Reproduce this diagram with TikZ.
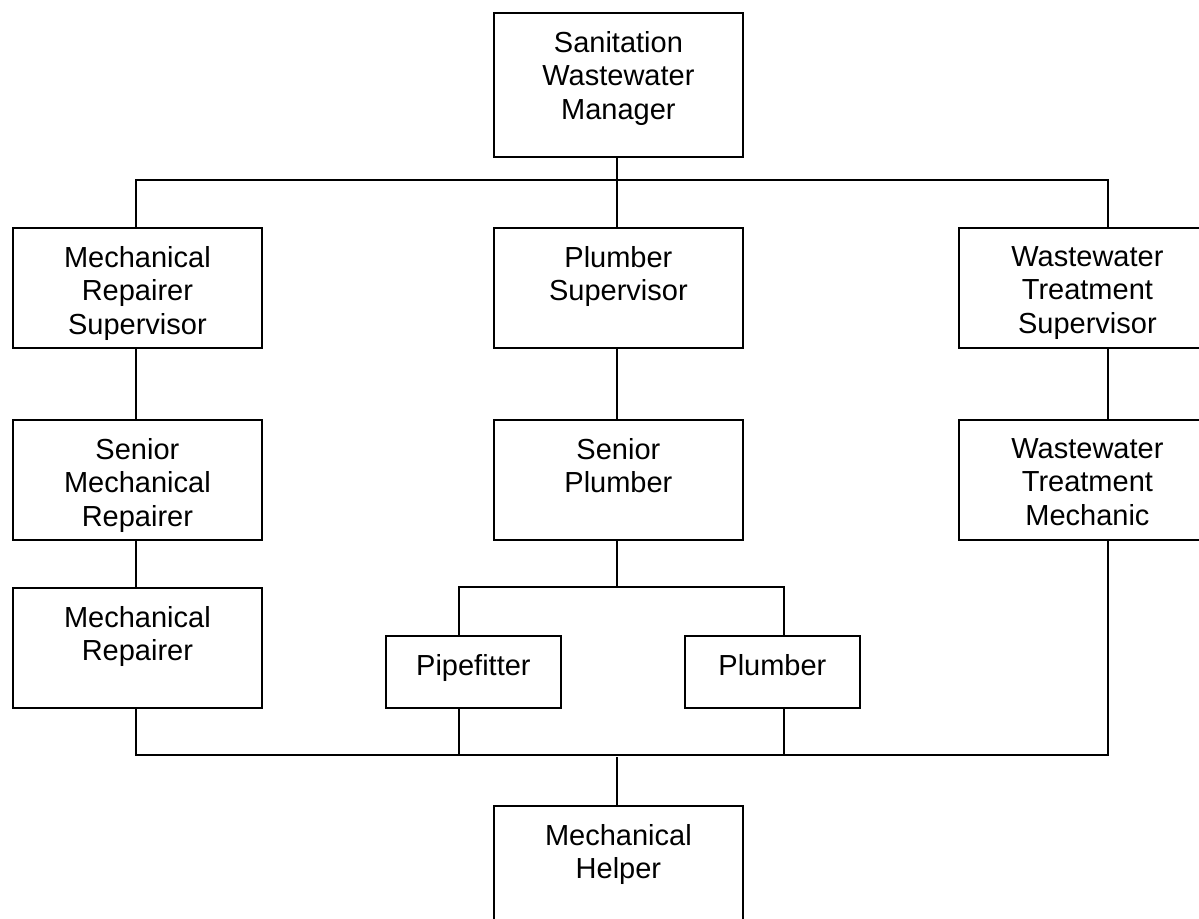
\documentclass[tikz,border=0pt]{standalone}
\usepackage{fontspec}
\setmainfont{Liberation Sans}
\begin{document}
\begin{tikzpicture}[x=1pt, y=-1pt,
  box/.style={draw, line width=1.8pt, inner sep=0pt, anchor=north west},
  wide/.style={minimum width=249pt},
  narrow/.style={minimum width=175pt},
  tall/.style={minimum height=144pt},
  mid/.style={minimum height=120pt},
  low/.style={minimum height=72pt},
  lbl/.style={anchor=north, inner sep=0pt, align=center, font=\fontsize{29}{33.5}\selectfont},
  conn/.style={line width=1.8pt, line join=miter}]
\useasboundingbox (0,0) rectangle (1199,918);
\clip (0,0) rectangle (1199,918);

% boxes
\node[box, wide, tall] (top) at (493,12) {};
\node[box, wide, mid] (mrs) at (12,227) {};
\node[box, wide, mid] (ps) at (493,227) {};
\node[box, wide, mid] (wts) at (958,227) {};
\node[box, wide, mid] (smr) at (12,419) {};
\node[box, wide, mid] (sp) at (493,419) {};
\node[box, wide, mid] (wtm) at (958,419) {};
\node[box, wide, mid] (mr) at (12,587) {};
\node[box, narrow, low] (pf) at (385,635) {};
\node[box, narrow, low] (pl) at (684,635) {};
\node[box, wide, tall] (mh) at (493,805) {};

% labels
\node[lbl] (ttop) at ([yshift=-19pt]top.north) {Sanitation\\Wastewater\\Manager};
\node[lbl] (tmrs) at ([yshift=-19pt]mrs.north) {Mechanical\\Repairer\\Supervisor};
\node[lbl] (tps) at ([yshift=-19pt]ps.north) {Plumber\\Supervisor};
\node[lbl] (twts) at ([xshift=4pt,yshift=-19pt]wts.north) {Wastewater\\Treatment\\Supervisor};
\node[lbl] (tsmr) at ([yshift=-19pt]smr.north) {Senior\\Mechanical\\Repairer};
\node[lbl] (tsp) at ([yshift=-19pt]sp.north) {Senior\\Plumber};
\node[lbl] (twtm) at ([xshift=4pt,yshift=-19pt]wtm.north) {Wastewater\\Treatment\\Mechanic};
\node[lbl] (tmr) at ([yshift=-19pt]mr.north) {Mechanical\\Repairer};
\node[lbl] (tpf) at ([yshift=-19pt]pf.north) {Pipefitter};
\node[lbl] (tpl) at ([yshift=-19pt]pl.north) {Plumber};
\node[lbl] (tmh) at ([yshift=-19pt]mh.north) {Mechanical\\Helper};

% junctions
\coordinate (jL) at (136,180);
\coordinate (jM) at (617,180);
\coordinate (jR) at (1108,180);
\coordinate (sL) at (459,587);
\coordinate (sM) at (617,587);
\coordinate (sR) at (784,587);
\coordinate (bL) at (136,755);
\coordinate (bA) at (459,755);
\coordinate (bM) at (617,757);
\coordinate (bB) at (784,755);
\coordinate (bR) at (1108,755);

% connectors
\draw[conn] (jM |- top.south) -- (jM);
\draw[conn] (jL |- mrs.north) -- (jL) -- (jR) -- (jR |- wts.north);
\draw[conn] (jM) -- (jM |- ps.north);
\draw[conn] (jL |- mrs.south) -- (jL |- smr.north);
\draw[conn] (jL |- smr.south) -- (jL |- mr.north);
\draw[conn] (jM |- ps.south) -- (jM |- sp.north);
\draw[conn] (jM |- sp.south) -- (sM);
\draw[conn] (sL |- pf.north) -- (sL) -- (sR) -- (sR |- pl.north);
\draw[conn] (jR |- wts.south) -- (jR |- wtm.north);
\draw[conn] (jL |- mr.south) -- (bL) -- (bR) -- (jR |- wtm.south);
\draw[conn] (sL |- pf.south) -- (bA);
\draw[conn] (sR |- pl.south) -- (bB);
\draw[conn] (bM) -- (bM |- mh.north);
\end{tikzpicture}
\end{document}
